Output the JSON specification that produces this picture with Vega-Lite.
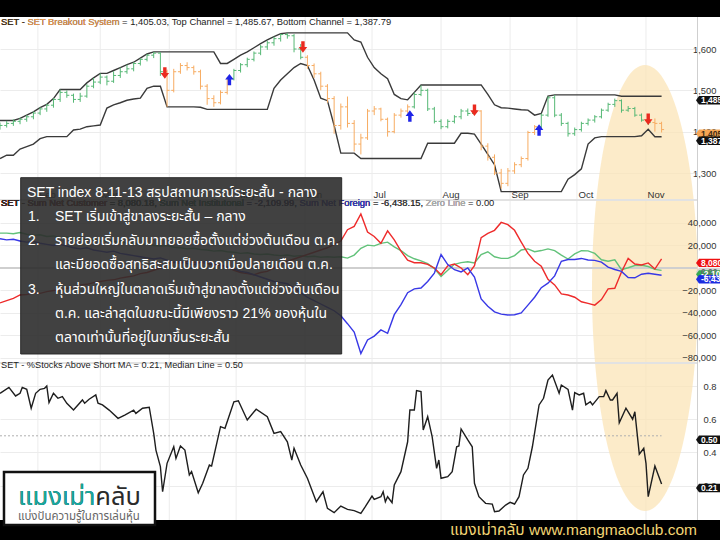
{
  "$schema": "https://vega.github.io/schema/vega-lite/v6.json",
  "width": 697,
  "height": 540,
  "autosize": {"type": "none"},
  "padding": {"left": 0, "top": 0, "right": 23, "bottom": 0},
  "background": "white",
  "config": {"view": {"stroke": null}, "text": {"font": "Liberation Sans"}},
  "datasets": {
    "one": [{}],
    "months": [
      {"d":"2013-02-01","m":"Feb"},{"d":"2013-03-01","m":"Mar"},{"d":"2013-04-01","m":"Apr"},{"d":"2013-05-01","m":"May"},
      {"d":"2013-06-01","m":"Jun"},{"d":"2013-07-01","m":"Jul"},{"d":"2013-08-01","m":"Aug"},{"d":"2013-09-01","m":"Sep"},
      {"d":"2013-10-01","m":"Oct"},{"d":"2013-11-01","m":"Nov"}
    ],
    "daily": [
      {"d":"2013-01-15","o":1412,"h":1422,"l":1405,"c":1415,"s":"g","top":1427,"bot":1335,"cu":-31000,"ins":31000,"fo":26000},
      {"d":"2013-01-18","o":1415,"h":1426,"l":1410,"c":1420,"s":"g","top":1427,"bot":1343,"cu":-29000,"ins":31000,"fo":25000},
      {"d":"2013-01-21","o":1420,"h":1430,"l":1414,"c":1425,"s":"g","top":1427,"bot":1343,"cu":-27000,"ins":30500,"fo":25500},
      {"d":"2013-01-24","o":1425,"h":1434,"l":1418,"c":1430,"s":"g","top":1432,"bot":1358,"cu":-24000,"ins":31500,"fo":24000},
      {"d":"2013-01-27","o":1430,"h":1440,"l":1424,"c":1436,"s":"g","top":1440,"bot":1364,"cu":-23500,"ins":30000,"fo":23000},
      {"d":"2013-01-30","o":1436,"h":1449,"l":1430,"c":1445,"s":"g","top":1448,"bot":1370,"cu":-22000,"ins":29000,"fo":23500},
      {"d":"2013-02-02","o":1445,"h":1459,"l":1440,"c":1455,"s":"g","top":1458,"bot":1383,"cu":-22500,"ins":29500,"fo":22000},
      {"d":"2013-02-05","o":1455,"h":1467,"l":1448,"c":1464,"s":"g","top":1466,"bot":1388,"cu":-21000,"ins":28000,"fo":21000},
      {"d":"2013-02-08","o":1464,"h":1481,"l":1458,"c":1478,"s":"g","top":1480,"bot":1388,"cu":-20000,"ins":28500,"fo":20000},
      {"d":"2013-02-11","o":1478,"h":1502,"l":1472,"c":1495,"s":"g","top":1502,"bot":1388,"cu":-19500,"ins":27000,"fo":21000},
      {"d":"2013-02-14","o":1495,"h":1500,"l":1482,"c":1488,"s":"g","top":1502,"bot":1388,"cu":-18000,"ins":27500,"fo":19500},
      {"d":"2013-02-17","o":1488,"h":1492,"l":1470,"c":1478,"s":"g","top":1502,"bot":1404,"cu":-17000,"ins":26000,"fo":18000},
      {"d":"2013-02-20","o":1478,"h":1494,"l":1472,"c":1486,"s":"g","top":1502,"bot":1406,"cu":-15000,"ins":26500,"fo":17000},
      {"d":"2013-02-23","o":1486,"h":1515,"l":1482,"c":1510,"s":"g","top":1518,"bot":1412,"cu":-14500,"ins":25000,"fo":18000},
      {"d":"2013-02-26","o":1510,"h":1530,"l":1505,"c":1520,"s":"g","top":1530,"bot":1414,"cu":-13000,"ins":25500,"fo":16000},
      {"d":"2013-03-01","o":1520,"h":1541,"l":1515,"c":1532,"s":"g","top":1541,"bot":1416,"cu":-12000,"ins":24000,"fo":15000},
      {"d":"2013-03-04","o":1532,"h":1536,"l":1512,"c":1522,"s":"g","top":1541,"bot":1457,"cu":-11000,"ins":24500,"fo":14000},
      {"d":"2013-03-07","o":1522,"h":1546,"l":1518,"c":1536,"s":"g","top":1548,"bot":1465,"cu":-10500,"ins":23000,"fo":15000},
      {"d":"2013-03-10","o":1536,"h":1555,"l":1530,"c":1545,"s":"g","top":1555,"bot":1470,"cu":-9000,"ins":23500,"fo":13000},
      {"d":"2013-03-13","o":1545,"h":1562,"l":1540,"c":1552,"s":"g","top":1562,"bot":1476,"cu":-8000,"ins":22000,"fo":12000},
      {"d":"2013-03-16","o":1552,"h":1568,"l":1546,"c":1565,"s":"g","top":1568,"bot":1479,"cu":-7000,"ins":22500,"fo":11000},
      {"d":"2013-03-19","o":1565,"h":1578,"l":1560,"c":1575,"s":"g","top":1578,"bot":1481,"cu":-5000,"ins":21000,"fo":10000},
      {"d":"2013-03-22","o":1575,"h":1588,"l":1570,"c":1585,"s":"g","top":1588,"bot":1505,"cu":-4000,"ins":21500,"fo":9000},
      {"d":"2013-03-25","o":1585,"h":1593,"l":1578,"c":1590,"s":"g","top":1593,"bot":1510,"cu":-2000,"ins":20000,"fo":8000},
      {"d":"2013-03-28","o":1590,"h":1592,"l":1535,"c":1545,"s":"g","top":1593,"bot":1510,"cu":0,"ins":19500,"fo":9000},
      {"d":"2013-03-31","o":1545,"h":1550,"l":1460,"c":1500,"s":"o","top":1593,"bot":1460,"cu":3000,"ins":20000,"fo":7000},
      {"d":"2013-04-03","o":1500,"h":1552,"l":1495,"c":1545,"s":"o","top":1593,"bot":1460,"cu":5000,"ins":18500,"fo":5000},
      {"d":"2013-04-06","o":1545,"h":1566,"l":1540,"c":1560,"s":"o","top":1593,"bot":1460,"cu":4000,"ins":18000,"fo":6000},
      {"d":"2013-04-09","o":1560,"h":1568,"l":1548,"c":1555,"s":"o","top":1593,"bot":1460,"cu":6000,"ins":17000,"fo":4000},
      {"d":"2013-04-12","o":1555,"h":1560,"l":1538,"c":1545,"s":"o","top":1593,"bot":1460,"cu":5000,"ins":17500,"fo":3000},
      {"d":"2013-04-15","o":1545,"h":1550,"l":1502,"c":1510,"s":"o","top":1593,"bot":1459,"cu":5000,"ins":16500,"fo":5000},
      {"d":"2013-04-18","o":1510,"h":1515,"l":1465,"c":1480,"s":"o","top":1593,"bot":1454,"cu":4000,"ins":16000,"fo":6000},
      {"d":"2013-04-21","o":1480,"h":1488,"l":1460,"c":1470,"s":"o","top":1593,"bot":1454,"cu":3000,"ins":15000,"fo":4000},
      {"d":"2013-04-24","o":1470,"h":1500,"l":1466,"c":1495,"s":"o","top":1565,"bot":1454,"cu":2000,"ins":15500,"fo":3000},
      {"d":"2013-04-27","o":1495,"h":1532,"l":1490,"c":1528,"s":"o","top":1565,"bot":1454,"cu":1000,"ins":14500,"fo":1000},
      {"d":"2013-04-30","o":1528,"h":1552,"l":1524,"c":1548,"s":"g","top":1575,"bot":1454,"cu":-2000,"ins":14000,"fo":-1000},
      {"d":"2013-05-03","o":1548,"h":1566,"l":1543,"c":1562,"s":"g","top":1585,"bot":1454,"cu":-4000,"ins":13000,"fo":-3000},
      {"d":"2013-05-06","o":1562,"h":1579,"l":1556,"c":1575,"s":"g","top":1593,"bot":1454,"cu":-5000,"ins":13500,"fo":-4000},
      {"d":"2013-05-09","o":1575,"h":1594,"l":1570,"c":1590,"s":"g","top":1603,"bot":1454,"cu":-6000,"ins":12500,"fo":-6000},
      {"d":"2013-05-12","o":1590,"h":1610,"l":1585,"c":1605,"s":"g","top":1613,"bot":1454,"cu":-4000,"ins":12000,"fo":-8000},
      {"d":"2013-05-15","o":1605,"h":1620,"l":1598,"c":1615,"s":"g","top":1622,"bot":1454,"cu":-3000,"ins":12500,"fo":-10000},
      {"d":"2013-05-18","o":1615,"h":1630,"l":1608,"c":1625,"s":"g","top":1630,"bot":1505,"cu":0,"ins":11500,"fo":-12000},
      {"d":"2013-05-21","o":1625,"h":1637,"l":1618,"c":1635,"s":"g","top":1637,"bot":1525,"cu":3000,"ins":11000,"fo":-13000},
      {"d":"2013-05-24","o":1635,"h":1639,"l":1625,"c":1632,"s":"g","top":1639,"bot":1540,"cu":6000,"ins":11500,"fo":-14000},
      {"d":"2013-05-27","o":1632,"h":1636,"l":1592,"c":1600,"s":"g","top":1639,"bot":1555,"cu":8000,"ins":10500,"fo":-18000},
      {"d":"2013-05-30","o":1600,"h":1612,"l":1575,"c":1580,"s":"g","top":1639,"bot":1565,"cu":10000,"ins":11000,"fo":-22000},
      {"d":"2013-06-02","o":1580,"h":1585,"l":1552,"c":1560,"s":"o","top":1639,"bot":1560,"cu":12000,"ins":10000,"fo":-26000},
      {"d":"2013-06-05","o":1560,"h":1565,"l":1530,"c":1540,"s":"o","top":1639,"bot":1525,"cu":14000,"ins":10500,"fo":-29000},
      {"d":"2013-06-08","o":1540,"h":1545,"l":1500,"c":1510,"s":"o","top":1639,"bot":1481,"cu":16000,"ins":9500,"fo":-32000},
      {"d":"2013-06-11","o":1510,"h":1515,"l":1470,"c":1480,"s":"o","top":1639,"bot":1475,"cu":18000,"ins":10000,"fo":-35000},
      {"d":"2013-06-14","o":1480,"h":1486,"l":1395,"c":1415,"s":"o","top":1639,"bot":1415,"cu":21000,"ins":9500,"fo":-38000},
      {"d":"2013-06-17","o":1415,"h":1468,"l":1405,"c":1460,"s":"o","top":1639,"bot":1348,"cu":24000,"ins":10000,"fo":-42500},
      {"d":"2013-06-20","o":1460,"h":1485,"l":1410,"c":1420,"s":"o","top":1639,"bot":1348,"cu":34000,"ins":8800,"fo":-49500},
      {"d":"2013-06-23","o":1420,"h":1428,"l":1352,"c":1370,"s":"o","top":1622,"bot":1348,"cu":37000,"ins":11500,"fo":-57000},
      {"d":"2013-06-26","o":1370,"h":1395,"l":1345,"c":1385,"s":"o","top":1617,"bot":1335,"cu":48000,"ins":17500,"fo":-76000},
      {"d":"2013-06-29","o":1385,"h":1455,"l":1380,"c":1450,"s":"o","top":1580,"bot":1335,"cu":32000,"ins":20300,"fo":-64000},
      {"d":"2013-07-02","o":1450,"h":1462,"l":1440,"c":1455,"s":"o","top":1555,"bot":1335,"cu":28000,"ins":19700,"fo":-60500},
      {"d":"2013-07-05","o":1455,"h":1458,"l":1425,"c":1430,"s":"o","top":1540,"bot":1335,"cu":22000,"ins":21900,"fo":-55000},
      {"d":"2013-07-08","o":1430,"h":1434,"l":1388,"c":1400,"s":"o","top":1528,"bot":1335,"cu":33000,"ins":23000,"fo":-58000},
      {"d":"2013-07-11","o":1400,"h":1445,"l":1396,"c":1440,"s":"o","top":1490,"bot":1335,"cu":25000,"ins":18800,"fo":-41500},
      {"d":"2013-07-14","o":1440,"h":1456,"l":1434,"c":1450,"s":"o","top":1480,"bot":1335,"cu":15000,"ins":15500,"fo":-32500},
      {"d":"2013-07-17","o":1450,"h":1466,"l":1444,"c":1460,"s":"o","top":1477,"bot":1335,"cu":7000,"ins":11000,"fo":-22000},
      {"d":"2013-07-20","o":1460,"h":1495,"l":1456,"c":1490,"s":"g","top":1495,"bot":1335,"cu":4700,"ins":8200,"fo":-18500},
      {"d":"2013-07-23","o":1490,"h":1512,"l":1486,"c":1500,"s":"g","top":1513,"bot":1335,"cu":4700,"ins":6300,"fo":-17800},
      {"d":"2013-07-26","o":1500,"h":1504,"l":1450,"c":1455,"s":"g","top":1513,"bot":1372,"cu":3200,"ins":3800,"fo":-12000},
      {"d":"2013-07-29","o":1455,"h":1460,"l":1420,"c":1425,"s":"g","top":1513,"bot":1372,"cu":0,"ins":-500,"fo":-4500},
      {"d":"2013-08-01","o":1425,"h":1430,"l":1406,"c":1412,"s":"g","top":1513,"bot":1372,"cu":-6000,"ins":-7500,"fo":12000},
      {"d":"2013-08-04","o":1412,"h":1430,"l":1408,"c":1425,"s":"g","top":1513,"bot":1372,"cu":2000,"ins":-2000,"fo":3000},
      {"d":"2013-08-07","o":1425,"h":1440,"l":1420,"c":1436,"s":"g","top":1513,"bot":1372,"cu":3500,"ins":3300,"fo":-1500},
      {"d":"2013-08-10","o":1436,"h":1455,"l":1430,"c":1450,"s":"g","top":1513,"bot":1396,"cu":0,"ins":4800,"fo":-3500},
      {"d":"2013-08-13","o":1450,"h":1456,"l":1438,"c":1444,"s":"g","top":1513,"bot":1396,"cu":-6000,"ins":5500,"fo":0},
      {"d":"2013-08-16","o":1444,"h":1456,"l":1440,"c":1450,"s":"g","top":1513,"bot":1394,"cu":2000,"ins":4500,"fo":-8000},
      {"d":"2013-08-19","o":1450,"h":1452,"l":1355,"c":1365,"s":"o","top":1513,"bot":1370,"cu":27000,"ins":12000,"fo":-27500},
      {"d":"2013-08-22","o":1365,"h":1372,"l":1330,"c":1338,"s":"o","top":1490,"bot":1345,"cu":30800,"ins":14400,"fo":-34000},
      {"d":"2013-08-25","o":1338,"h":1345,"l":1295,"c":1300,"s":"o","top":1465,"bot":1320,"cu":33500,"ins":10000,"fo":-39000},
      {"d":"2013-08-28","o":1300,"h":1310,"l":1262,"c":1275,"s":"o","top":1458,"bot":1255,"cu":40500,"ins":8600,"fo":-41000},
      {"d":"2013-08-31","o":1275,"h":1312,"l":1268,"c":1305,"s":"o","top":1457,"bot":1255,"cu":38500,"ins":8600,"fo":-41800},
      {"d":"2013-09-03","o":1305,"h":1326,"l":1298,"c":1320,"s":"o","top":1455,"bot":1255,"cu":33500,"ins":11000,"fo":-41500},
      {"d":"2013-09-06","o":1320,"h":1340,"l":1314,"c":1335,"s":"o","top":1453,"bot":1255,"cu":23000,"ins":16000,"fo":-40000},
      {"d":"2013-09-09","o":1335,"h":1402,"l":1330,"c":1398,"s":"o","top":1452,"bot":1255,"cu":13000,"ins":17000,"fo":-33000},
      {"d":"2013-09-12","o":1398,"h":1416,"l":1392,"c":1412,"s":"o","top":1440,"bot":1255,"cu":6000,"ins":14500,"fo":-26000},
      {"d":"2013-09-15","o":1412,"h":1444,"l":1408,"c":1440,"s":"g","top":1444,"bot":1255,"cu":1500,"ins":15500,"fo":-17500},
      {"d":"2013-09-18","o":1440,"h":1486,"l":1436,"c":1482,"s":"g","top":1486,"bot":1255,"cu":-10000,"ins":17000,"fo":-13500},
      {"d":"2013-09-21","o":1482,"h":1489,"l":1435,"c":1440,"s":"g","top":1489,"bot":1255,"cu":-15000,"ins":15500,"fo":-7000},
      {"d":"2013-09-24","o":1440,"h":1445,"l":1414,"c":1420,"s":"g","top":1489,"bot":1255,"cu":-23000,"ins":11500,"fo":6000},
      {"d":"2013-09-27","o":1420,"h":1424,"l":1388,"c":1395,"s":"g","top":1489,"bot":1285,"cu":-24000,"ins":8000,"fo":7600},
      {"d":"2013-09-30","o":1395,"h":1410,"l":1390,"c":1405,"s":"g","top":1489,"bot":1296,"cu":-26000,"ins":12500,"fo":7500},
      {"d":"2013-10-03","o":1405,"h":1424,"l":1400,"c":1420,"s":"g","top":1489,"bot":1310,"cu":-30000,"ins":15400,"fo":8500},
      {"d":"2013-10-06","o":1420,"h":1432,"l":1415,"c":1428,"s":"g","top":1489,"bot":1370,"cu":-31400,"ins":15200,"fo":7100},
      {"d":"2013-10-09","o":1428,"h":1440,"l":1422,"c":1436,"s":"g","top":1489,"bot":1385,"cu":-33000,"ins":13000,"fo":6800},
      {"d":"2013-10-12","o":1436,"h":1456,"l":1432,"c":1452,"s":"g","top":1489,"bot":1388,"cu":-28000,"ins":7300,"fo":5200},
      {"d":"2013-10-15","o":1452,"h":1470,"l":1448,"c":1466,"s":"g","top":1489,"bot":1388,"cu":-18500,"ins":6000,"fo":800},
      {"d":"2013-10-18","o":1466,"h":1480,"l":1460,"c":1475,"s":"g","top":1489,"bot":1388,"cu":-18000,"ins":7200,"fo":-1300},
      {"d":"2013-10-21","o":1475,"h":1478,"l":1446,"c":1452,"s":"g","top":1485.67,"bot":1388,"cu":-3500,"ins":-1500,"fo":-3000},
      {"d":"2013-10-24","o":1452,"h":1462,"l":1448,"c":1456,"s":"g","top":1485.67,"bot":1388,"cu":8500,"ins":200,"fo":-8500},
      {"d":"2013-10-27","o":1456,"h":1460,"l":1436,"c":1440,"s":"g","top":1485.67,"bot":1388,"cu":3500,"ins":2200,"fo":-8700},
      {"d":"2013-10-30","o":1440,"h":1444,"l":1424,"c":1428,"s":"g","top":1485.67,"bot":1390,"cu":2700,"ins":2400,"fo":-5500},
      {"d":"2013-11-02","o":1428,"h":1432,"l":1416,"c":1422,"s":"g","top":1485.67,"bot":1406,"cu":4500,"ins":1300,"fo":-4700},
      {"d":"2013-11-05","o":1422,"h":1432,"l":1400,"c":1420,"s":"o","top":1485.67,"bot":1387.79,"cu":-900,"ins":-1200,"fo":-5500},
      {"d":"2013-11-08","o":1420,"h":1424,"l":1398,"c":1405.03,"s":"o","top":1485.67,"bot":1387.79,"cu":8080.18,"ins":-2109.99,"fo":-6438.15}
    ],
    "pct": [
      {"d":"2013-01-15","v":0.756},{"d":"2013-01-19","v":0.792},{"d":"2013-01-22","v":0.74},{"d":"2013-01-24","v":0.756},
      {"d":"2013-01-25","v":0.792},{"d":"2013-01-27","v":0.78},{"d":"2013-01-29","v":0.666},{"d":"2013-01-31","v":0.756},
      {"d":"2013-02-02","v":0.78},{"d":"2013-02-04","v":0.786},{"d":"2013-02-05","v":0.8},{"d":"2013-02-06","v":0.7},
      {"d":"2013-02-08","v":0.756},{"d":"2013-02-10","v":0.726},{"d":"2013-02-12","v":0.736},{"d":"2013-02-14","v":0.696},
      {"d":"2013-02-17","v":0.655},{"d":"2013-02-21","v":0.716},{"d":"2013-02-22","v":0.696},{"d":"2013-02-24","v":0.72},
      {"d":"2013-02-27","v":0.746},{"d":"2013-02-28","v":0.696},{"d":"2013-03-02","v":0.686},{"d":"2013-03-05","v":0.655},
      {"d":"2013-03-09","v":0.605},{"d":"2013-03-12","v":0.625},{"d":"2013-03-16","v":0.655},{"d":"2013-03-17","v":0.635},
      {"d":"2013-03-20","v":0.666},{"d":"2013-03-23","v":0.672},{"d":"2013-03-25","v":0.515},{"d":"2013-03-26","v":0.414},
      {"d":"2013-03-28","v":0.314},{"d":"2013-03-29","v":0.163},{"d":"2013-03-31","v":0.334},{"d":"2013-04-03","v":0.434},
      {"d":"2013-04-04","v":0.364},{"d":"2013-04-06","v":0.439},{"d":"2013-04-08","v":0.414},{"d":"2013-04-10","v":0.264},
      {"d":"2013-04-11","v":0.284},{"d":"2013-04-14","v":0.157},{"d":"2013-04-16","v":0.214},{"d":"2013-04-19","v":0.324},
      {"d":"2013-04-20","v":0.318},{"d":"2013-04-24","v":0.555},{"d":"2013-04-26","v":0.545},{"d":"2013-04-30","v":0.705},
      {"d":"2013-05-02","v":0.711},{"d":"2013-05-06","v":0.595},{"d":"2013-05-10","v":0.66},{"d":"2013-05-15","v":0.615},
      {"d":"2013-05-18","v":0.515},{"d":"2013-05-21","v":0.525},{"d":"2013-05-24","v":0.464},{"d":"2013-05-26","v":0.354},
      {"d":"2013-05-27","v":0.425},{"d":"2013-05-30","v":0.324},{"d":"2013-06-02","v":0.244},{"d":"2013-06-06","v":0.103},
      {"d":"2013-06-09","v":0.163},{"d":"2013-06-11","v":0.063},{"d":"2013-06-14","v":0.037},{"d":"2013-06-17","v":0.077},
      {"d":"2013-06-20","v":0.057},{"d":"2013-06-23","v":0.049},{"d":"2013-06-26","v":0.033},{"d":"2013-06-28","v":0.073},
      {"d":"2013-07-01","v":0.137},{"d":"2013-07-02","v":0.117},{"d":"2013-07-05","v":0.133},{"d":"2013-07-06","v":0.163},
      {"d":"2013-07-07","v":0.103},{"d":"2013-07-08","v":0.133},{"d":"2013-07-10","v":0.097},{"d":"2013-07-11","v":0.204},
      {"d":"2013-07-14","v":0.284},{"d":"2013-07-17","v":0.464},{"d":"2013-07-18","v":0.655},{"d":"2013-07-20","v":0.655},
      {"d":"2013-07-21","v":0.772},{"d":"2013-07-23","v":0.766},{"d":"2013-07-24","v":0.535},{"d":"2013-07-26","v":0.615},
      {"d":"2013-07-28","v":0.495},{"d":"2013-07-30","v":0.304},{"d":"2013-07-31","v":0.354},{"d":"2013-08-01","v":0.244},
      {"d":"2013-08-04","v":0.254},{"d":"2013-08-06","v":0.284},{"d":"2013-08-08","v":0.434},{"d":"2013-08-09","v":0.439},
      {"d":"2013-08-10","v":0.541},{"d":"2013-08-13","v":0.475},{"d":"2013-08-15","v":0.434},{"d":"2013-08-16","v":0.214},
      {"d":"2013-08-18","v":0.133},{"d":"2013-08-21","v":0.093},{"d":"2013-08-24","v":0.089},{"d":"2013-08-25","v":0.043},
      {"d":"2013-08-27","v":0.047},{"d":"2013-08-30","v":0.083},{"d":"2013-09-01","v":0.099},{"d":"2013-09-03","v":0.089},
      {"d":"2013-09-05","v":0.133},{"d":"2013-09-07","v":0.264},{"d":"2013-09-09","v":0.304},{"d":"2013-09-11","v":0.434},
      {"d":"2013-09-14","v":0.686},{"d":"2013-09-16","v":0.726},{"d":"2013-09-18","v":0.836},{"d":"2013-09-20","v":0.866},
      {"d":"2013-09-23","v":0.756},{"d":"2013-09-24","v":0.806},{"d":"2013-09-27","v":0.78},{"d":"2013-09-29","v":0.655},
      {"d":"2013-09-30","v":0.76},{"d":"2013-10-02","v":0.746},{"d":"2013-10-04","v":0.756},{"d":"2013-10-05","v":0.686},
      {"d":"2013-10-07","v":0.705},{"d":"2013-10-08","v":0.686},{"d":"2013-10-11","v":0.736},{"d":"2013-10-13","v":0.736},
      {"d":"2013-10-14","v":0.772},{"d":"2013-10-16","v":0.716},{"d":"2013-10-17","v":0.716},{"d":"2013-10-19","v":0.756},
      {"d":"2013-10-20","v":0.579},{"d":"2013-10-23","v":0.666},{"d":"2013-10-26","v":0.6},{"d":"2013-10-27","v":0.645},
      {"d":"2013-10-29","v":0.39},{"d":"2013-10-31","v":0.425},{"d":"2013-11-01","v":0.334},{"d":"2013-11-02","v":0.133},
      {"d":"2013-11-05","v":0.318},{"d":"2013-11-08","v":0.21}
    ],
    "arrows": [
      {"d":"2013-03-30","v":1542,"dir":"down"},
      {"d":"2013-04-28","v":1526,"dir":"up"},
      {"d":"2013-05-31","v":1605,"dir":"down"},
      {"d":"2013-07-18","v":1438,"dir":"up"},
      {"d":"2013-08-16","v":1452,"dir":"down"},
      {"d":"2013-09-14","v":1404,"dir":"up"},
      {"d":"2013-11-02","v":1430,"dir":"down"}
    ],
    "tags": [
      {"p":"price","s":"top","v":1485.67,"t":"1,485.67"},
      {"p":"price","s":"sys","v":1405.03,"t":"1,405.03"},
      {"p":"price","s":"bot","v":1387.79,"t":"1,387.79"},
      {"p":"flow","s":"cust","v":8080.18,"t":"8,080.18"},
      {"p":"flow","s":"zero","v":0,"t":"0.00"},
      {"p":"flow","s":"inst","v":-2109.99,"t":"-2,109.99"},
      {"p":"flow","s":"forg","v":-6438.15,"t":"-6,438.15"},
      {"p":"pct","s":"median","v":0.5,"t":"0.50"},
      {"p":"pct","s":"stocks","v":0.21,"t":"0.21"}
    ],
    "titles": [
      {"p":"price","r":"base","t":"SET - SET Breakout System = 1,405.03, Top Channel = 1,485.67, Bottom Channel = 1,387.79"},
      {"p":"price","r":"orange","t":"SET - SET Breakout System"},
      {"p":"price","r":"base","t":"SET -"},
      {"p":"flow","r":"base","t":"SET - Sum Net Customer = 8,080.18, Sum Net Institutonal = -2,109.99, Sum Net Foreign = -6,438.15, Zero Line = 0.00"},
      {"p":"flow","r":"grey","t":"SET - Sum Net Customer = 8,080.18, Sum Net Institutonal = -2,109.99, Sum Net Foreign = -6,438.15, Zero Line"},
      {"p":"flow","r":"base","t":"SET - Sum Net Customer = 8,080.18, Sum Net Institutonal = -2,109.99, Sum Net Foreign = -6,438.15,"},
      {"p":"flow","r":"blue","t":"SET - Sum Net Customer = 8,080.18, Sum Net Institutonal = -2,109.99, Sum Net Foreign"},
      {"p":"flow","r":"base","t":"SET - Sum Net Customer = 8,080.18, Sum Net Institutonal = -2,109.99,"},
      {"p":"flow","r":"green","t":"SET - Sum Net Customer = 8,080.18, Sum Net Institutonal"},
      {"p":"flow","r":"base","t":"SET - Sum Net Customer = 8,080.18,"},
      {"p":"flow","r":"red","t":"SET - Sum Net Customer"},
      {"p":"flow","r":"base","t":"SET -"},
      {"p":"pct","r":"base","t":"SET - %Stocks Above Short MA = 0.21, Median Line = 0.50"}
    ],
    "logo": [
      {"r":"dark","t":"แมงเม่าคลับ"},
      {"r":"teal","t":"แมงเม่า"}
    ]
  },
  "resolve": {
    "scale": {"y": "independent", "color": "independent", "shape": "independent"},
    "axis": {"y": "independent"}
  },
  "layer": [
    {
      "data": {"name": "months"},
      "mark": {"type": "rule", "color": "#ececec", "strokeWidth": 1},
      "encoding": {
        "x": {"field": "d", "type": "temporal", "scale": {"type": "utc", "domain": [{"year": 2013, "month": 1, "date": 15, "utc": true}, {"year": 2013, "month": 11, "date": 23, "hours": 21, "minutes": 36, "utc": true}], "nice": false}, "axis": null}
      }
    },
    {
      "data": {"name": "one"},
      "mark": {"type": "point", "shape": "M0,-4.2075C0.5523,-4.2075 1,-2.3238 1,0C1,2.3238 0.5523,4.2075 0,4.2075C-0.5523,4.2075 -1,2.3238 -1,0C-1,-2.3238 -0.5523,-4.2075 0,-4.2075Z", "size": 11236, "filled": true, "color": "#fbe3b4", "opacity": 0.72, "strokeWidth": 0},
      "encoding": {
        "x": {"datum": {"year": 2013, "month": 10, "date": 31, "hours": 13, "utc": true}, "type": "temporal", "scale": {"type": "utc", "domain": [{"year": 2013, "month": 1, "date": 15, "utc": true}, {"year": 2013, "month": 11, "date": 23, "hours": 21, "minutes": 36, "utc": true}], "nice": false}, "axis": null},
        "y": {"datum": -17778, "type": "quantitative", "scale": {"domain": [-241778, 238222], "nice": false, "zero": false}, "axis": null}
      }
    },
    {
      "data": {"name": "one"},
      "mark": {"type": "rule", "color": "#e2e2e2", "strokeWidth": 2},
      "encoding": {"y": {"datum": 60444, "type": "quantitative", "scale": {"domain": [-241778, 238222], "nice": false, "zero": false}, "axis": null}}
    },
    {
      "data": {"name": "one"},
      "mark": {"type": "rule", "color": "#e2e2e2", "strokeWidth": 2},
      "encoding": {"y": {"datum": 0.9386, "type": "quantitative", "scale": {"domain": [-0.1277, 3.1253], "nice": false, "zero": false}, "axis": null}}
    },
    {
      "data": {"name": "one"},
      "mark": {"type": "rule", "color": "#cfcfcf", "strokeWidth": 2},
      "encoding": {"y": {"datum": 0, "type": "quantitative", "scale": {"domain": [-241778, 238222], "nice": false, "zero": false}, "axis": null}}
    },
    {
      "data": {"name": "one"},
      "mark": {"type": "rule", "color": "#b0b0b0", "strokeWidth": 1, "strokeDash": [2, 2]},
      "encoding": {
        "x": {"datum": {"year": 2013, "month": 1, "date": 15, "utc": true}, "type": "temporal", "scale": {"type": "utc", "domain": [{"year": 2013, "month": 1, "date": 15, "utc": true}, {"year": 2013, "month": 11, "date": 23, "hours": 21, "minutes": 36, "utc": true}], "nice": false}, "axis": null},
        "x2": {"datum": {"year": 2013, "month": 11, "date": 8, "utc": true}},
        "y": {"datum": 0.5, "type": "quantitative", "scale": {"domain": [-0.1277, 3.1253], "nice": false, "zero": false}, "axis": null}
      }
    },
    {
      "data": {"name": "daily"},
      "mark": {"type": "line", "color": "#3a3a3a", "strokeWidth": 1.4},
      "encoding": {
        "x": {"field": "d", "type": "temporal", "scale": {"type": "utc", "domain": [{"year": 2013, "month": 1, "date": 15, "utc": true}, {"year": 2013, "month": 11, "date": 23, "hours": 21, "minutes": 36, "utc": true}], "nice": false}, "axis": null},
        "y": {"field": "top", "type": "quantitative", "scale": {"domain": [412.1, 1718.55], "nice": false, "zero": false}, "axis": null}
      }
    },
    {
      "data": {"name": "daily"},
      "mark": {"type": "line", "color": "#3a3a3a", "strokeWidth": 1.4},
      "encoding": {
        "x": {"field": "d", "type": "temporal", "scale": {"type": "utc", "domain": [{"year": 2013, "month": 1, "date": 15, "utc": true}, {"year": 2013, "month": 11, "date": 23, "hours": 21, "minutes": 36, "utc": true}], "nice": false}, "axis": null},
        "y": {"field": "bot", "type": "quantitative", "scale": {"domain": [412.1, 1718.55], "nice": false, "zero": false}, "axis": null}
      }
    },
    {
      "data": {"name": "daily"},
      "mark": {"type": "rule", "strokeWidth": 1},
      "encoding": {
        "x": {"field": "d", "type": "temporal", "scale": {"type": "utc", "domain": [{"year": 2013, "month": 1, "date": 15, "utc": true}, {"year": 2013, "month": 11, "date": 23, "hours": 21, "minutes": 36, "utc": true}], "nice": false}, "axis": null},
        "y": {"field": "l", "type": "quantitative", "scale": {"domain": [412.1, 1718.55], "nice": false, "zero": false},
          "axis": {"orient": "right", "values": [1300, 1400, 1500, 1600], "format": ",.0f", "grid": true, "gridColor": "#ececec", "domain": true, "domainColor": "#cfcfcf", "ticks": false, "tickSize": 0, "labelAlign": "right", "labelBaseline": "middle", "labelPadding": 19, "labelFont": "Liberation Sans", "labelFontSize": 9.4, "labelColor": "#333333", "labelFlush": false, "labelOverlap": false, "labelBound": false, "title": null, "zindex": 0}},
        "y2": {"field": "h"},
        "color": {"field": "s", "type": "nominal", "scale": {"domain": ["g", "o"], "range": ["#56b875", "#f7ac62"]}, "legend": null}
      }
    },
    {
      "data": {"name": "daily"},
      "mark": {"type": "point", "shape": "M-1,0H0", "size": 25, "filled": false, "opacity": 1, "strokeWidth": 1},
      "encoding": {
        "x": {"field": "d", "type": "temporal", "scale": {"type": "utc", "domain": [{"year": 2013, "month": 1, "date": 15, "utc": true}, {"year": 2013, "month": 11, "date": 23, "hours": 21, "minutes": 36, "utc": true}], "nice": false}, "axis": null},
        "y": {"field": "o", "type": "quantitative", "scale": {"domain": [412.1, 1718.55], "nice": false, "zero": false}, "axis": null},
        "color": {"field": "s", "type": "nominal", "scale": {"domain": ["g", "o"], "range": ["#56b875", "#f7ac62"]}, "legend": null}
      }
    },
    {
      "data": {"name": "daily"},
      "mark": {"type": "point", "shape": "M0,0H1", "size": 25, "filled": false, "opacity": 1, "strokeWidth": 1},
      "encoding": {
        "x": {"field": "d", "type": "temporal", "scale": {"type": "utc", "domain": [{"year": 2013, "month": 1, "date": 15, "utc": true}, {"year": 2013, "month": 11, "date": 23, "hours": 21, "minutes": 36, "utc": true}], "nice": false}, "axis": null},
        "y": {"field": "c", "type": "quantitative", "scale": {"domain": [412.1, 1718.55], "nice": false, "zero": false}, "axis": null},
        "color": {"field": "s", "type": "nominal", "scale": {"domain": ["g", "o"], "range": ["#56b875", "#f7ac62"]}, "legend": null}
      }
    },
    {
      "data": {"name": "arrows"},
      "mark": {"type": "point", "size": 130, "filled": true, "opacity": 1, "strokeWidth": 0},
      "encoding": {
        "x": {"field": "d", "type": "temporal", "scale": {"type": "utc", "domain": [{"year": 2013, "month": 1, "date": 15, "utc": true}, {"year": 2013, "month": 11, "date": 23, "hours": 21, "minutes": 36, "utc": true}], "nice": false}, "axis": null},
        "y": {"field": "v", "type": "quantitative", "scale": {"domain": [412.1, 1718.55], "nice": false, "zero": false}, "axis": null},
        "shape": {"field": "dir", "type": "nominal", "scale": {"domain": ["down", "up"], "range": ["M-0.3,-1H0.3V0H0.75L0,1L-0.75,0H-0.3Z", "M-0.3,1H0.3V0H0.75L0,-1L-0.75,0H-0.3Z"]}, "legend": null},
        "color": {"field": "dir", "type": "nominal", "scale": {"domain": ["down", "up"], "range": ["#ea2a1f", "#1f24e8"]}, "legend": null}
      }
    },
    {
      "data": {"name": "daily"},
      "mark": {"type": "line", "color": "#62c27a", "strokeWidth": 1.4},
      "encoding": {
        "x": {"field": "d", "type": "temporal", "scale": {"type": "utc", "domain": [{"year": 2013, "month": 1, "date": 15, "utc": true}, {"year": 2013, "month": 11, "date": 23, "hours": 21, "minutes": 36, "utc": true}], "nice": false}, "axis": null},
        "y": {"field": "ins", "type": "quantitative", "scale": {"domain": [-241778, 238222], "nice": false, "zero": false},
          "axis": {"orient": "right", "values": [-80000, -60000, -40000, -20000, 20000, 40000], "grid": true, "gridColor": "#ececec", "labels": false, "domain": false, "ticks": false, "tickSize": 0, "title": null, "zindex": 0}}
      }
    },
    {
      "data": {"name": "daily"},
      "mark": {"type": "line", "color": "#ee2b2b", "strokeWidth": 1.4},
      "encoding": {
        "x": {"field": "d", "type": "temporal", "scale": {"type": "utc", "domain": [{"year": 2013, "month": 1, "date": 15, "utc": true}, {"year": 2013, "month": 11, "date": 23, "hours": 21, "minutes": 36, "utc": true}], "nice": false}, "axis": null},
        "y": {"field": "cu", "type": "quantitative", "scale": {"domain": [-241778, 238222], "nice": false, "zero": false},
          "axis": {"orient": "right", "values": [-80000, -60000, -40000, -20000, 20000, 40000], "format": ",.0f", "grid": false, "domain": false, "ticks": false, "tickSize": 0, "labelAlign": "right", "labelBaseline": "middle", "labelPadding": 19, "labelFont": "Liberation Sans", "labelFontSize": 9.4, "labelColor": "#333333", "labelFlush": false, "labelOverlap": false, "labelBound": false, "title": null, "zindex": 1}}
      }
    },
    {
      "data": {"name": "daily"},
      "mark": {"type": "line", "color": "#3838e6", "strokeWidth": 1.4},
      "encoding": {
        "x": {"field": "d", "type": "temporal", "scale": {"type": "utc", "domain": [{"year": 2013, "month": 1, "date": 15, "utc": true}, {"year": 2013, "month": 11, "date": 23, "hours": 21, "minutes": 36, "utc": true}], "nice": false}, "axis": null},
        "y": {"field": "fo", "type": "quantitative", "scale": {"domain": [-241778, 238222], "nice": false, "zero": false}, "axis": null}
      }
    },
    {
      "data": {"name": "pct"},
      "mark": {"type": "line", "color": "#1e1e1e", "strokeWidth": 1.4},
      "encoding": {
        "x": {"field": "d", "type": "temporal", "scale": {"type": "utc", "domain": [{"year": 2013, "month": 1, "date": 15, "utc": true}, {"year": 2013, "month": 11, "date": 23, "hours": 21, "minutes": 36, "utc": true}], "nice": false}, "axis": null},
        "y": {"field": "v", "type": "quantitative", "scale": {"domain": [-0.1277, 3.1253], "nice": false, "zero": false},
          "axis": {"orient": "right", "values": [0.2, 0.4, 0.6, 0.8], "format": ".1f", "grid": true, "gridColor": "#ececec", "domain": false, "ticks": false, "tickSize": 0, "labelAlign": "right", "labelBaseline": "middle", "labelPadding": 19, "labelFont": "Liberation Sans", "labelFontSize": 9.4, "labelColor": "#333333", "labelFlush": false, "labelOverlap": false, "labelBound": false, "title": null, "zindex": 0}}
      }
    },
    {
      "data": {"name": "months"},
      "mark": {"type": "text", "align": "left", "baseline": "middle", "dx": 1.5, "fontSize": 9.6, "color": "#333333", "font": "Liberation Sans"},
      "encoding": {
        "x": {"field": "d", "type": "temporal", "scale": {"type": "utc", "domain": [{"year": 2013, "month": 1, "date": 15, "utc": true}, {"year": 2013, "month": 11, "date": 23, "hours": 21, "minutes": 36, "utc": true}], "nice": false}, "axis": null},
        "y": {"datum": 1246.8, "type": "quantitative", "scale": {"domain": [412.1, 1718.55], "nice": false, "zero": false}, "axis": null},
        "text": {"field": "m"}
      }
    },
    {
      "data": {"name": "tags"},
      "transform": [{"filter": "datum.p === 'price'"}],
      "mark": {"type": "point", "shape": "M-0.3,0L0,-0.42H2.4V0.42H0Z", "size": 400, "filled": true, "opacity": 1, "strokeWidth": 0, "yOffset": 4},
      "encoding": {
        "x": {"datum": {"year": 2013, "month": 11, "date": 24, "hours": 19, "utc": true}, "type": "temporal", "scale": {"type": "utc", "domain": [{"year": 2013, "month": 1, "date": 15, "utc": true}, {"year": 2013, "month": 11, "date": 23, "hours": 21, "minutes": 36, "utc": true}], "nice": false}, "axis": null},
        "y": {"field": "v", "type": "quantitative", "scale": {"domain": [412.1, 1718.55], "nice": false, "zero": false}, "axis": null},
        "color": {"field": "s", "type": "nominal", "scale": {"domain": ["top", "sys", "bot"], "range": ["#111111", "#f6a553", "#111111"]}, "legend": null}
      }
    },
    {
      "data": {"name": "tags"},
      "transform": [{"filter": "datum.p === 'flow'"}],
      "mark": {"type": "point", "shape": "M-0.3,0L0,-0.42H2.4V0.42H0Z", "size": 400, "filled": true, "opacity": 1, "strokeWidth": 0, "yOffset": 4},
      "encoding": {
        "x": {"datum": {"year": 2013, "month": 11, "date": 24, "hours": 19, "utc": true}, "type": "temporal", "scale": {"type": "utc", "domain": [{"year": 2013, "month": 1, "date": 15, "utc": true}, {"year": 2013, "month": 11, "date": 23, "hours": 21, "minutes": 36, "utc": true}], "nice": false}, "axis": null},
        "y": {"field": "v", "type": "quantitative", "scale": {"domain": [-241778, 238222], "nice": false, "zero": false}, "axis": null},
        "color": {"field": "s", "type": "nominal", "scale": {"domain": ["cust", "zero", "inst", "forg"], "range": ["#ee1111", "#d4d4d4", "#36a852", "#1c2de0"]}, "legend": null}
      }
    },
    {
      "data": {"name": "tags"},
      "transform": [{"filter": "datum.p === 'pct'"}],
      "mark": {"type": "point", "shape": "M-0.3,0L0,-0.42H2.4V0.42H0Z", "size": 400, "filled": true, "opacity": 1, "strokeWidth": 0, "yOffset": 4},
      "encoding": {
        "x": {"datum": {"year": 2013, "month": 11, "date": 24, "hours": 19, "utc": true}, "type": "temporal", "scale": {"type": "utc", "domain": [{"year": 2013, "month": 1, "date": 15, "utc": true}, {"year": 2013, "month": 11, "date": 23, "hours": 21, "minutes": 36, "utc": true}], "nice": false}, "axis": null},
        "y": {"field": "v", "type": "quantitative", "scale": {"domain": [-0.1277, 3.1253], "nice": false, "zero": false}, "axis": null},
        "color": {"field": "s", "type": "nominal", "scale": {"domain": ["median", "stocks"], "range": ["#111111", "#111111"]}, "legend": null}
      }
    },
    {
      "data": {"name": "tags"},
      "transform": [{"filter": "datum.p === 'price'"}],
      "mark": {"type": "text", "align": "left", "baseline": "middle", "dx": 2, "yOffset": 4, "fontSize": 8.5, "fontWeight": "bold", "font": "Liberation Sans"},
      "encoding": {
        "x": {"datum": {"year": 2013, "month": 11, "date": 24, "hours": 19, "utc": true}, "type": "temporal", "scale": {"type": "utc", "domain": [{"year": 2013, "month": 1, "date": 15, "utc": true}, {"year": 2013, "month": 11, "date": 23, "hours": 21, "minutes": 36, "utc": true}], "nice": false}, "axis": null},
        "y": {"field": "v", "type": "quantitative", "scale": {"domain": [412.1, 1718.55], "nice": false, "zero": false}, "axis": null},
        "text": {"field": "t"},
        "color": {"field": "s", "type": "nominal", "scale": {"domain": ["top", "sys", "bot"], "range": ["#ffffff", "#3b2a14", "#ffffff"]}, "legend": null}
      }
    },
    {
      "data": {"name": "tags"},
      "transform": [{"filter": "datum.p === 'flow'"}],
      "mark": {"type": "text", "align": "left", "baseline": "middle", "dx": 2, "yOffset": 4, "fontSize": 8.5, "fontWeight": "bold", "font": "Liberation Sans"},
      "encoding": {
        "x": {"datum": {"year": 2013, "month": 11, "date": 24, "hours": 19, "utc": true}, "type": "temporal", "scale": {"type": "utc", "domain": [{"year": 2013, "month": 1, "date": 15, "utc": true}, {"year": 2013, "month": 11, "date": 23, "hours": 21, "minutes": 36, "utc": true}], "nice": false}, "axis": null},
        "y": {"field": "v", "type": "quantitative", "scale": {"domain": [-241778, 238222], "nice": false, "zero": false}, "axis": null},
        "text": {"field": "t"},
        "color": {"field": "s", "type": "nominal", "scale": {"domain": ["cust", "zero", "inst", "forg"], "range": ["#ffffff", "#6a6a6a", "#ffffff", "#ffffff"]}, "legend": null}
      }
    },
    {
      "data": {"name": "tags"},
      "transform": [{"filter": "datum.p === 'pct'"}],
      "mark": {"type": "text", "align": "left", "baseline": "middle", "dx": 2, "yOffset": 4, "fontSize": 8.5, "fontWeight": "bold", "font": "Liberation Sans"},
      "encoding": {
        "x": {"datum": {"year": 2013, "month": 11, "date": 24, "hours": 19, "utc": true}, "type": "temporal", "scale": {"type": "utc", "domain": [{"year": 2013, "month": 1, "date": 15, "utc": true}, {"year": 2013, "month": 11, "date": 23, "hours": 21, "minutes": 36, "utc": true}], "nice": false}, "axis": null},
        "y": {"field": "v", "type": "quantitative", "scale": {"domain": [-0.1277, 3.1253], "nice": false, "zero": false}, "axis": null},
        "text": {"field": "t"},
        "color": {"field": "s", "type": "nominal", "scale": {"domain": ["median", "stocks"], "range": ["#ffffff", "#ffffff"]}, "legend": null}
      }
    },
    {
      "data": {"name": "titles"},
      "transform": [{"filter": "datum.p === 'price'"}],
      "mark": {"type": "text", "align": "left", "baseline": "middle", "dx": 1, "fontSize": 9.4, "font": "Liberation Sans"},
      "encoding": {
        "x": {"datum": {"year": 2013, "month": 1, "date": 15, "utc": true}, "type": "temporal", "scale": {"type": "utc", "domain": [{"year": 2013, "month": 1, "date": 15, "utc": true}, {"year": 2013, "month": 11, "date": 23, "hours": 21, "minutes": 36, "utc": true}], "nice": false}, "axis": null},
        "y": {"datum": 1666.5, "type": "quantitative", "scale": {"domain": [412.1, 1718.55], "nice": false, "zero": false}, "axis": null},
        "text": {"field": "t"},
        "color": {"field": "r", "type": "nominal", "scale": {"domain": ["base", "orange"], "range": ["#222222", "#f7a24f"]}, "legend": null}
      }
    },
    {
      "data": {"name": "titles"},
      "transform": [{"filter": "datum.p === 'flow'"}],
      "mark": {"type": "text", "align": "left", "baseline": "middle", "dx": 1, "fontSize": 9.4, "font": "Liberation Sans"},
      "encoding": {
        "x": {"datum": {"year": 2013, "month": 1, "date": 15, "utc": true}, "type": "temporal", "scale": {"type": "utc", "domain": [{"year": 2013, "month": 1, "date": 15, "utc": true}, {"year": 2013, "month": 11, "date": 23, "hours": 21, "minutes": 36, "utc": true}], "nice": false}, "axis": null},
        "y": {"datum": 57778, "type": "quantitative", "scale": {"domain": [-241778, 238222], "nice": false, "zero": false}, "axis": null},
        "text": {"field": "t"},
        "color": {"field": "r", "type": "nominal", "scale": {"domain": ["base", "grey", "blue", "green", "red"], "range": ["#222222", "#c4c4c4", "#3030d4", "#2f8f45", "#a32121"]}, "legend": null}
      }
    },
    {
      "data": {"name": "titles"},
      "transform": [{"filter": "datum.p === 'pct'"}],
      "mark": {"type": "text", "align": "left", "baseline": "middle", "dx": 1, "fontSize": 9.2, "font": "Liberation Sans"},
      "encoding": {
        "x": {"datum": {"year": 2013, "month": 1, "date": 15, "utc": true}, "type": "temporal", "scale": {"type": "utc", "domain": [{"year": 2013, "month": 1, "date": 15, "utc": true}, {"year": 2013, "month": 11, "date": 23, "hours": 21, "minutes": 36, "utc": true}], "nice": false}, "axis": null},
        "y": {"datum": 0.9265, "type": "quantitative", "scale": {"domain": [-0.1277, 3.1253], "nice": false, "zero": false}, "axis": null},
        "text": {"field": "t"},
        "color": {"field": "r", "type": "nominal", "scale": {"domain": ["base"], "range": ["#222222"]}, "legend": null}
      }
    },
    {
      "data": {"name": "one"},
      "mark": {"type": "rect", "color": "#2d2d2d", "opacity": 0.9, "stroke": "#151515", "strokeWidth": 1},
      "encoding": {
        "x": {"datum": {"year": 2013, "month": 1, "date": 24, "hours": 7, "utc": true}, "type": "temporal", "scale": {"type": "utc", "domain": [{"year": 2013, "month": 1, "date": 15, "utc": true}, {"year": 2013, "month": 11, "date": 23, "hours": 21, "minutes": 36, "utc": true}], "nice": false}, "axis": null},
        "x2": {"datum": {"year": 2013, "month": 6, "date": 17, "hours": 9, "minutes": 20, "utc": true}},
        "y": {"datum": 80267, "type": "quantitative", "scale": {"domain": [-241778, 238222], "nice": false, "zero": false}, "axis": null},
        "y2": {"datum": -76444}
      }
    },
    {
      "data": {"name": "one"},
      "mark": {"type": "text", "align": "left", "baseline": "middle", "fontSize": 14, "color": "#ffffff", "font": "Liberation Sans, Noto Sans Thai, Noto Sans Thai UI, sans-serif"},
      "encoding": {
        "x": {"datum": {"year": 2013, "month": 1, "date": 27, "hours": 3, "utc": true}, "type": "temporal", "scale": {"type": "utc", "domain": [{"year": 2013, "month": 1, "date": 15, "utc": true}, {"year": 2013, "month": 11, "date": 23, "hours": 21, "minutes": 36, "utc": true}], "nice": false}, "axis": null},
        "y": {"datum": 66667, "type": "quantitative", "scale": {"domain": [-241778, 238222], "nice": false, "zero": false}, "axis": null},
        "text": {"value": "SET index 8-11-13 สรุปสถานการณ์ระยะสั้น - กลาง"}
      }
    },
    {
      "data": {"name": "one"},
      "mark": {"type": "text", "align": "left", "baseline": "alphabetic", "fontSize": 14, "lineHeight": 24.2, "color": "#ffffff", "font": "Liberation Sans, Noto Sans Thai, Noto Sans Thai UI, sans-serif"},
      "encoding": {
        "x": {"datum": {"year": 2013, "month": 1, "date": 27, "hours": 14, "utc": true}, "type": "temporal", "scale": {"type": "utc", "domain": [{"year": 2013, "month": 1, "date": 15, "utc": true}, {"year": 2013, "month": 11, "date": 23, "hours": 21, "minutes": 36, "utc": true}], "nice": false}, "axis": null},
        "y": {"datum": 41778, "type": "quantitative", "scale": {"domain": [-241778, 238222], "nice": false, "zero": false}, "axis": null},
        "text": {"value": ["1.", "2."]}
      }
    },
    {
      "data": {"name": "one"},
      "mark": {"type": "text", "align": "left", "baseline": "alphabetic", "fontSize": 14, "color": "#ffffff", "font": "Liberation Sans, Noto Sans Thai, Noto Sans Thai UI, sans-serif"},
      "encoding": {
        "x": {"datum": {"year": 2013, "month": 1, "date": 27, "hours": 14, "utc": true}, "type": "temporal", "scale": {"type": "utc", "domain": [{"year": 2013, "month": 1, "date": 15, "utc": true}, {"year": 2013, "month": 11, "date": 23, "hours": 21, "minutes": 36, "utc": true}], "nice": false}, "axis": null},
        "y": {"datum": -22756, "type": "quantitative", "scale": {"domain": [-241778, 238222], "nice": false, "zero": false}, "axis": null},
        "text": {"value": "3."}
      }
    },
    {
      "data": {"name": "one"},
      "mark": {"type": "text", "align": "left", "baseline": "alphabetic", "fontSize": 14, "lineHeight": 24.2, "color": "#ffffff", "font": "Liberation Sans, Noto Sans Thai, Noto Sans Thai UI, sans-serif"},
      "encoding": {
        "x": {"datum": {"year": 2013, "month": 2, "date": 8, "hours": 16, "minutes": 30, "utc": true}, "type": "temporal", "scale": {"type": "utc", "domain": [{"year": 2013, "month": 1, "date": 15, "utc": true}, {"year": 2013, "month": 11, "date": 23, "hours": 21, "minutes": 36, "utc": true}], "nice": false}, "axis": null},
        "y": {"datum": 41778, "type": "quantitative", "scale": {"domain": [-241778, 238222], "nice": false, "zero": false}, "axis": null},
        "text": {"value": ["SET เริ่มเข้าสู่ขาลงระยะสั้น – กลาง", "รายย่อยเริ่มกลับมาทยอยซื้อตั้งแต่ช่วงต้นเดือน ต.ค.", "และมียอดซื้อสุทธิสะสมเป็นบวกเมื่อปลายเดือน ต.ค.", "หุ้นส่วนใหญ่ในตลาดเริ่มเข้าสู่ขาลงตั้งแต่ช่วงต้นเดือน", "ต.ค. และล่าสุดในขณะนี้มีเพียงราว 21% ของหุ้นใน", "ตลาดเท่านั้นที่อยู่ในขาขึ้นระยะสั้น"]}
      }
    },
    {
      "data": {"name": "one"},
      "mark": {"type": "rect", "color": "#000000"},
      "encoding": {
        "x": {"datum": {"year": 2013, "month": 1, "date": 1, "utc": true}, "type": "temporal", "scale": {"type": "utc", "domain": [{"year": 2013, "month": 1, "date": 15, "utc": true}, {"year": 2013, "month": 11, "date": 23, "hours": 21, "minutes": 36, "utc": true}], "nice": false}, "axis": null},
        "x2": {"datum": {"year": 2013, "month": 12, "date": 31, "utc": true}},
        "y": {"datum": 1800, "type": "quantitative", "scale": {"domain": [412.1, 1718.55], "nice": false, "zero": false}, "axis": null},
        "y2": {"datum": 1677.4}
      }
    },
    {
      "data": {"name": "one"},
      "mark": {"type": "rect", "color": "#000000"},
      "encoding": {
        "x": {"datum": {"year": 2013, "month": 1, "date": 1, "utc": true}, "type": "temporal", "scale": {"type": "utc", "domain": [{"year": 2013, "month": 1, "date": 15, "utc": true}, {"year": 2013, "month": 11, "date": 23, "hours": 21, "minutes": 36, "utc": true}], "nice": false}, "axis": null},
        "x2": {"datum": {"year": 2013, "month": 12, "date": 31, "utc": true}},
        "y": {"datum": -0.0072, "type": "quantitative", "scale": {"domain": [-0.1277, 3.1253], "nice": false, "zero": false}, "axis": null},
        "y2": {"datum": -0.5}
      }
    },
    {
      "data": {"name": "one"},
      "mark": {"type": "text", "align": "right", "baseline": "middle", "fontSize": 15.5, "color": "#f2d574", "font": "Liberation Sans, Noto Sans Thai, Noto Sans Thai UI, sans-serif"},
      "encoding": {
        "x": {"datum": {"year": 2013, "month": 11, "date": 23, "hours": 21, "minutes": 36, "utc": true}, "type": "temporal", "scale": {"type": "utc", "domain": [{"year": 2013, "month": 1, "date": 15, "utc": true}, {"year": 2013, "month": 11, "date": 23, "hours": 21, "minutes": 36, "utc": true}], "nice": false}, "axis": null},
        "y": {"datum": -0.0675, "type": "quantitative", "scale": {"domain": [-0.1277, 3.1253], "nice": false, "zero": false}, "axis": null},
        "text": {"value": "แมงเม่าคลับ www.mangmaoclub.com"}
      }
    },
    {
      "data": {"name": "one"},
      "mark": {"type": "rect", "color": "#ffffff", "stroke": "#111111", "strokeWidth": 2.5},
      "encoding": {
        "x": {"datum": {"year": 2013, "month": 1, "date": 16, "hours": 19, "utc": true}, "type": "temporal", "scale": {"type": "utc", "domain": [{"year": 2013, "month": 1, "date": 15, "utc": true}, {"year": 2013, "month": 11, "date": 23, "hours": 21, "minutes": 36, "utc": true}], "nice": false}, "axis": null},
        "x2": {"datum": {"year": 2013, "month": 3, "date": 25, "hours": 14, "utc": true}},
        "y": {"datum": 0.282, "type": "quantitative", "scale": {"domain": [-0.1277, 3.1253], "nice": false, "zero": false}, "axis": null},
        "y2": {"datum": -0.0373}
      }
    },
    {
      "data": {"name": "logo"},
      "mark": {"type": "text", "align": "left", "baseline": "alphabetic", "fontSize": 25.5, "font": "Noto Sans Thai, Noto Sans Thai UI, sans-serif"},
      "encoding": {
        "x": {"datum": {"year": 2013, "month": 1, "date": 23, "hours": 2, "utc": true}, "type": "temporal", "scale": {"type": "utc", "domain": [{"year": 2013, "month": 1, "date": 15, "utc": true}, {"year": 2013, "month": 11, "date": 23, "hours": 21, "minutes": 36, "utc": true}], "nice": false}, "axis": null},
        "y": {"datum": 0.0831, "type": "quantitative", "scale": {"domain": [-0.1277, 3.1253], "nice": false, "zero": false}, "axis": null},
        "text": {"field": "t"},
        "color": {"field": "r", "type": "nominal", "scale": {"domain": ["dark", "teal"], "range": ["#2b2b2b", "#19a89e"]}, "legend": null}
      }
    },
    {
      "data": {"name": "one"},
      "mark": {"type": "text", "align": "left", "baseline": "middle", "fontSize": 11.5, "color": "#666666", "font": "Noto Sans Thai, Noto Sans Thai UI, sans-serif"},
      "encoding": {
        "x": {"datum": {"year": 2013, "month": 1, "date": 23, "hours": 2, "utc": true}, "type": "temporal", "scale": {"type": "utc", "domain": [{"year": 2013, "month": 1, "date": 15, "utc": true}, {"year": 2013, "month": 11, "date": 23, "hours": 21, "minutes": 36, "utc": true}], "nice": false}, "axis": null},
        "y": {"datum": 0.0108, "type": "quantitative", "scale": {"domain": [-0.1277, 3.1253], "nice": false, "zero": false}, "axis": null},
        "text": {"value": "แบ่งปันความรู้ในการเล่นหุ้น"}
      }
    }
  ]
}
